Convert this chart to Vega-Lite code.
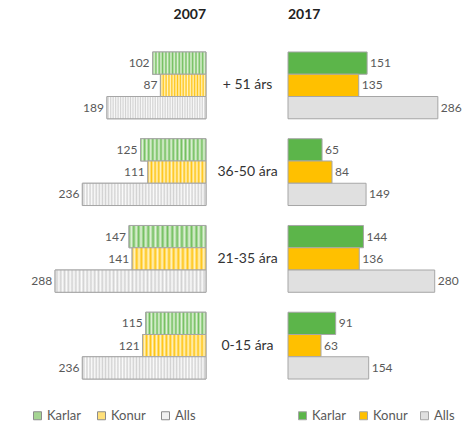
{
 "$schema": "https://vega.github.io/schema/vega-lite/v6.json",
 "background": "white",
 "padding": {"left": 31, "top": 8, "right": 5, "bottom": 5},
 "bounds": "flush",
 "spacing": 82,
 "config": {"view": {"stroke": null}, "font": "Lato", "title": {"fontSize": 14, "fontWeight": "bold", "color": "#222222", "font": "Lato", "offset": 20, "frame": "group"}},
 "datasets": {
  "d2007": [
   {"group": "+ 51 árs", "series": "Karlar", "value": 102},
   {"group": "+ 51 árs", "series": "Konur", "value": 87},
   {"group": "+ 51 árs", "series": "Alls", "value": 189},
   {"group": "36-50 ára", "series": "Karlar", "value": 125},
   {"group": "36-50 ára", "series": "Konur", "value": 111},
   {"group": "36-50 ára", "series": "Alls", "value": 236},
   {"group": "21-35 ára", "series": "Karlar", "value": 147},
   {"group": "21-35 ára", "series": "Konur", "value": 141},
   {"group": "21-35 ára", "series": "Alls", "value": 288},
   {"group": "0-15 ára", "series": "Karlar", "value": 115},
   {"group": "0-15 ára", "series": "Konur", "value": 121},
   {"group": "0-15 ára", "series": "Alls", "value": 236}
  ],
  "d2017": [
   {"group": "+ 51 árs", "series": "Karlar", "value": 151},
   {"group": "+ 51 árs", "series": "Konur", "value": 135},
   {"group": "+ 51 árs", "series": "Alls", "value": 286},
   {"group": "36-50 ára", "series": "Karlar", "value": 65},
   {"group": "36-50 ára", "series": "Konur", "value": 84},
   {"group": "36-50 ára", "series": "Alls", "value": 149},
   {"group": "21-35 ára", "series": "Karlar", "value": 144},
   {"group": "21-35 ára", "series": "Konur", "value": 136},
   {"group": "21-35 ára", "series": "Alls", "value": 280},
   {"group": "0-15 ára", "series": "Karlar", "value": 91},
   {"group": "0-15 ára", "series": "Konur", "value": 63},
   {"group": "0-15 ára", "series": "Alls", "value": 154}
  ]
 },
 "resolve": {"scale": {"fill": "independent", "x": "independent", "y": "independent", "yOffset": "independent"}},
 "hconcat": [
  {
   "width": 175, "height": 347,
   "title": {"text": "2007", "anchor": "end"},
   "data": {"name": "d2007"},
   "encoding": {
    "y": {"field": "group", "type": "nominal", "sort": ["+ 51 árs", "36-50 ára", "21-35 ára", "0-15 ára"], "scale": {"paddingInner": 0.23, "paddingOuter": 0.115},
          "axis": {"orient": "right", "title": null, "domain": false, "ticks": false, "labelPadding": 41, "labelAlign": "center", "labelFontSize": 14, "labelColor": "#333333", "labelFont": "Lato"}},
    "yOffset": {"field": "series", "type": "nominal", "scale": {"domain": ["Karlar", "Konur", "Alls"], "paddingInner": 0, "paddingOuter": 0}},
    "x": {"field": "value", "type": "quantitative", "scale": {"domain": [0, 334], "reverse": true}, "axis": null}
   },
   "layer": [
    {
     "mark": {"type": "bar", "stroke": "#a6a6a6", "strokeWidth": 1},
     "encoding": {
      "fill": {"field": "series", "type": "nominal",
        "scale": {"domain": ["Karlar", "Konur", "Alls"], "range": ["#a5d593", "#ffe07a", "#f2f2f2"]},
        "legend": {"title": null, "orient": "none", "legendX": 0, "legendY": 367, "direction": "horizontal", "symbolType": "square", "symbolSize": 64, "labelFontSize": 13, "labelColor": "#595959", "labelFont": "Lato", "symbolStrokeColor": "#8c8c8c", "symbolStrokeWidth": 1, "symbolOpacity": 1, "columnPadding": 13, "labelOffset": 3}
      }
     }
    },
    {
     "transform": [{"filter": "datum.series === 'Karlar'"}],
     "mark": {"type": "bar", "stroke": "#a6a6a6", "strokeWidth": 1, "fill": {"gradient": "linear", "x1": 0, "y1": 0, "x2": 1, "y2": 0, "stops": [
          {"offset": 0, "color": "#72bf5e"}, {"offset": 0.03125, "color": "#e2f2da"}, {"offset": 0.0625, "color": "#72bf5e"}, {"offset": 0.09375, "color": "#e2f2da"},
          {"offset": 0.125, "color": "#72bf5e"}, {"offset": 0.15625, "color": "#e2f2da"}, {"offset": 0.1875, "color": "#72bf5e"}, {"offset": 0.21875, "color": "#e2f2da"},
          {"offset": 0.25, "color": "#72bf5e"}, {"offset": 0.28125, "color": "#e2f2da"}, {"offset": 0.3125, "color": "#72bf5e"}, {"offset": 0.34375, "color": "#e2f2da"},
          {"offset": 0.375, "color": "#72bf5e"}, {"offset": 0.40625, "color": "#e2f2da"}, {"offset": 0.4375, "color": "#72bf5e"}, {"offset": 0.46875, "color": "#e2f2da"},
          {"offset": 0.5, "color": "#72bf5e"}, {"offset": 0.53125, "color": "#e2f2da"}, {"offset": 0.5625, "color": "#72bf5e"}, {"offset": 0.59375, "color": "#e2f2da"},
          {"offset": 0.625, "color": "#72bf5e"}, {"offset": 0.65625, "color": "#e2f2da"}, {"offset": 0.6875, "color": "#72bf5e"}, {"offset": 0.71875, "color": "#e2f2da"},
          {"offset": 0.75, "color": "#72bf5e"}, {"offset": 0.78125, "color": "#e2f2da"}, {"offset": 0.8125, "color": "#72bf5e"}, {"offset": 0.84375, "color": "#e2f2da"},
          {"offset": 0.875, "color": "#72bf5e"}, {"offset": 0.90625, "color": "#e2f2da"}, {"offset": 0.9375, "color": "#72bf5e"}, {"offset": 0.96875, "color": "#e2f2da"},
          {"offset": 1, "color": "#72bf5e"}]}}
    },
    {
     "transform": [{"filter": "datum.series === 'Konur'"}],
     "mark": {"type": "bar", "stroke": "#a6a6a6", "strokeWidth": 1, "fill": {"gradient": "linear", "x1": 0, "y1": 0, "x2": 1, "y2": 0, "stops": [
          {"offset": 0, "color": "#ffc515"}, {"offset": 0.03125, "color": "#fff3c4"}, {"offset": 0.0625, "color": "#ffc515"}, {"offset": 0.09375, "color": "#fff3c4"},
          {"offset": 0.125, "color": "#ffc515"}, {"offset": 0.15625, "color": "#fff3c4"}, {"offset": 0.1875, "color": "#ffc515"}, {"offset": 0.21875, "color": "#fff3c4"},
          {"offset": 0.25, "color": "#ffc515"}, {"offset": 0.28125, "color": "#fff3c4"}, {"offset": 0.3125, "color": "#ffc515"}, {"offset": 0.34375, "color": "#fff3c4"},
          {"offset": 0.375, "color": "#ffc515"}, {"offset": 0.40625, "color": "#fff3c4"}, {"offset": 0.4375, "color": "#ffc515"}, {"offset": 0.46875, "color": "#fff3c4"},
          {"offset": 0.5, "color": "#ffc515"}, {"offset": 0.53125, "color": "#fff3c4"}, {"offset": 0.5625, "color": "#ffc515"}, {"offset": 0.59375, "color": "#fff3c4"},
          {"offset": 0.625, "color": "#ffc515"}, {"offset": 0.65625, "color": "#fff3c4"}, {"offset": 0.6875, "color": "#ffc515"}, {"offset": 0.71875, "color": "#fff3c4"},
          {"offset": 0.75, "color": "#ffc515"}, {"offset": 0.78125, "color": "#fff3c4"}, {"offset": 0.8125, "color": "#ffc515"}, {"offset": 0.84375, "color": "#fff3c4"},
          {"offset": 0.875, "color": "#ffc515"}, {"offset": 0.90625, "color": "#fff3c4"}, {"offset": 0.9375, "color": "#ffc515"}, {"offset": 0.96875, "color": "#fff3c4"},
          {"offset": 1, "color": "#ffc515"}]}}
    },
    {
     "transform": [{"filter": "datum.series === 'Alls'"}],
     "mark": {"type": "bar", "stroke": "#a6a6a6", "strokeWidth": 1, "fill": {"gradient": "linear", "x1": 0, "y1": 0, "x2": 1, "y2": 0, "stops": [
          {"offset": 0, "color": "#fbfbfb"}, {"offset": 0.0125, "color": "#d2d2d2"}, {"offset": 0.025, "color": "#fbfbfb"}, {"offset": 0.0375, "color": "#d2d2d2"},
          {"offset": 0.05, "color": "#fbfbfb"}, {"offset": 0.0625, "color": "#d2d2d2"}, {"offset": 0.075, "color": "#fbfbfb"}, {"offset": 0.0875, "color": "#d2d2d2"},
          {"offset": 0.1, "color": "#fbfbfb"}, {"offset": 0.1125, "color": "#d2d2d2"}, {"offset": 0.125, "color": "#fbfbfb"}, {"offset": 0.1375, "color": "#d2d2d2"},
          {"offset": 0.15, "color": "#fbfbfb"}, {"offset": 0.1625, "color": "#d2d2d2"}, {"offset": 0.175, "color": "#fbfbfb"}, {"offset": 0.1875, "color": "#d2d2d2"},
          {"offset": 0.2, "color": "#fbfbfb"}, {"offset": 0.2125, "color": "#d2d2d2"}, {"offset": 0.225, "color": "#fbfbfb"}, {"offset": 0.2375, "color": "#d2d2d2"},
          {"offset": 0.25, "color": "#fbfbfb"}, {"offset": 0.2625, "color": "#d2d2d2"}, {"offset": 0.275, "color": "#fbfbfb"}, {"offset": 0.2875, "color": "#d2d2d2"},
          {"offset": 0.3, "color": "#fbfbfb"}, {"offset": 0.3125, "color": "#d2d2d2"}, {"offset": 0.325, "color": "#fbfbfb"}, {"offset": 0.3375, "color": "#d2d2d2"},
          {"offset": 0.35, "color": "#fbfbfb"}, {"offset": 0.3625, "color": "#d2d2d2"}, {"offset": 0.375, "color": "#fbfbfb"}, {"offset": 0.3875, "color": "#d2d2d2"},
          {"offset": 0.4, "color": "#fbfbfb"}, {"offset": 0.4125, "color": "#d2d2d2"}, {"offset": 0.425, "color": "#fbfbfb"}, {"offset": 0.4375, "color": "#d2d2d2"},
          {"offset": 0.45, "color": "#fbfbfb"}, {"offset": 0.4625, "color": "#d2d2d2"}, {"offset": 0.475, "color": "#fbfbfb"}, {"offset": 0.4875, "color": "#d2d2d2"},
          {"offset": 0.5, "color": "#fbfbfb"}, {"offset": 0.5125, "color": "#d2d2d2"}, {"offset": 0.525, "color": "#fbfbfb"}, {"offset": 0.5375, "color": "#d2d2d2"},
          {"offset": 0.55, "color": "#fbfbfb"}, {"offset": 0.5625, "color": "#d2d2d2"}, {"offset": 0.575, "color": "#fbfbfb"}, {"offset": 0.5875, "color": "#d2d2d2"},
          {"offset": 0.6, "color": "#fbfbfb"}, {"offset": 0.6125, "color": "#d2d2d2"}, {"offset": 0.625, "color": "#fbfbfb"}, {"offset": 0.6375, "color": "#d2d2d2"},
          {"offset": 0.65, "color": "#fbfbfb"}, {"offset": 0.6625, "color": "#d2d2d2"}, {"offset": 0.675, "color": "#fbfbfb"}, {"offset": 0.6875, "color": "#d2d2d2"},
          {"offset": 0.7, "color": "#fbfbfb"}, {"offset": 0.7125, "color": "#d2d2d2"}, {"offset": 0.725, "color": "#fbfbfb"}, {"offset": 0.7375, "color": "#d2d2d2"},
          {"offset": 0.75, "color": "#fbfbfb"}, {"offset": 0.7625, "color": "#d2d2d2"}, {"offset": 0.775, "color": "#fbfbfb"}, {"offset": 0.7875, "color": "#d2d2d2"},
          {"offset": 0.8, "color": "#fbfbfb"}, {"offset": 0.8125, "color": "#d2d2d2"}, {"offset": 0.825, "color": "#fbfbfb"}, {"offset": 0.8375, "color": "#d2d2d2"},
          {"offset": 0.85, "color": "#fbfbfb"}, {"offset": 0.8625, "color": "#d2d2d2"}, {"offset": 0.875, "color": "#fbfbfb"}, {"offset": 0.8875, "color": "#d2d2d2"},
          {"offset": 0.9, "color": "#fbfbfb"}, {"offset": 0.9125, "color": "#d2d2d2"}, {"offset": 0.925, "color": "#fbfbfb"}, {"offset": 0.9375, "color": "#d2d2d2"},
          {"offset": 0.95, "color": "#fbfbfb"}, {"offset": 0.9625, "color": "#d2d2d2"}, {"offset": 0.975, "color": "#fbfbfb"}, {"offset": 0.9875, "color": "#d2d2d2"},
          {"offset": 1, "color": "#fbfbfb"}]}}
    },
    {
     "mark": {"type": "text", "align": "right", "dx": -3, "fontSize": 12, "color": "#595959", "font": "Lato"},
     "encoding": {"text": {"field": "value", "type": "quantitative"}}
    }
   ]
  },
  {
   "width": 175, "height": 347,
   "title": {"text": "2017", "anchor": "start"},
   "data": {"name": "d2017"},
   "encoding": {
    "y": {"field": "group", "type": "nominal", "sort": ["+ 51 árs", "36-50 ára", "21-35 ára", "0-15 ára"], "scale": {"paddingInner": 0.23, "paddingOuter": 0.115}, "axis": null},
    "yOffset": {"field": "series", "type": "nominal", "scale": {"domain": ["Karlar", "Konur", "Alls"], "paddingInner": 0, "paddingOuter": 0}},
    "x": {"field": "value", "type": "quantitative", "scale": {"domain": [0, 334]}, "axis": null}
   },
   "layer": [
    {
     "mark": {"type": "bar", "stroke": "#a6a6a6", "strokeWidth": 1},
     "encoding": {
      "fill": {"field": "series", "type": "nominal",
        "scale": {"domain": ["Karlar", "Konur", "Alls"], "range": ["#5cb54a", "#ffc000", "#e0e0e0"]},
        "legend": {"title": null, "orient": "none", "legendX": 8, "legendY": 367, "direction": "horizontal", "symbolType": "square", "symbolSize": 64, "labelFontSize": 13, "labelColor": "#595959", "labelFont": "Lato", "symbolStrokeColor": "#a6a6a6", "symbolStrokeWidth": 1, "symbolOpacity": 1, "columnPadding": 10, "labelOffset": 3}
      }
     }
    },
    {
     "mark": {"type": "text", "align": "left", "dx": 3, "fontSize": 12, "color": "#595959", "font": "Lato"},
     "encoding": {"text": {"field": "value", "type": "quantitative"}}
    }
   ]
  }
 ]
}
